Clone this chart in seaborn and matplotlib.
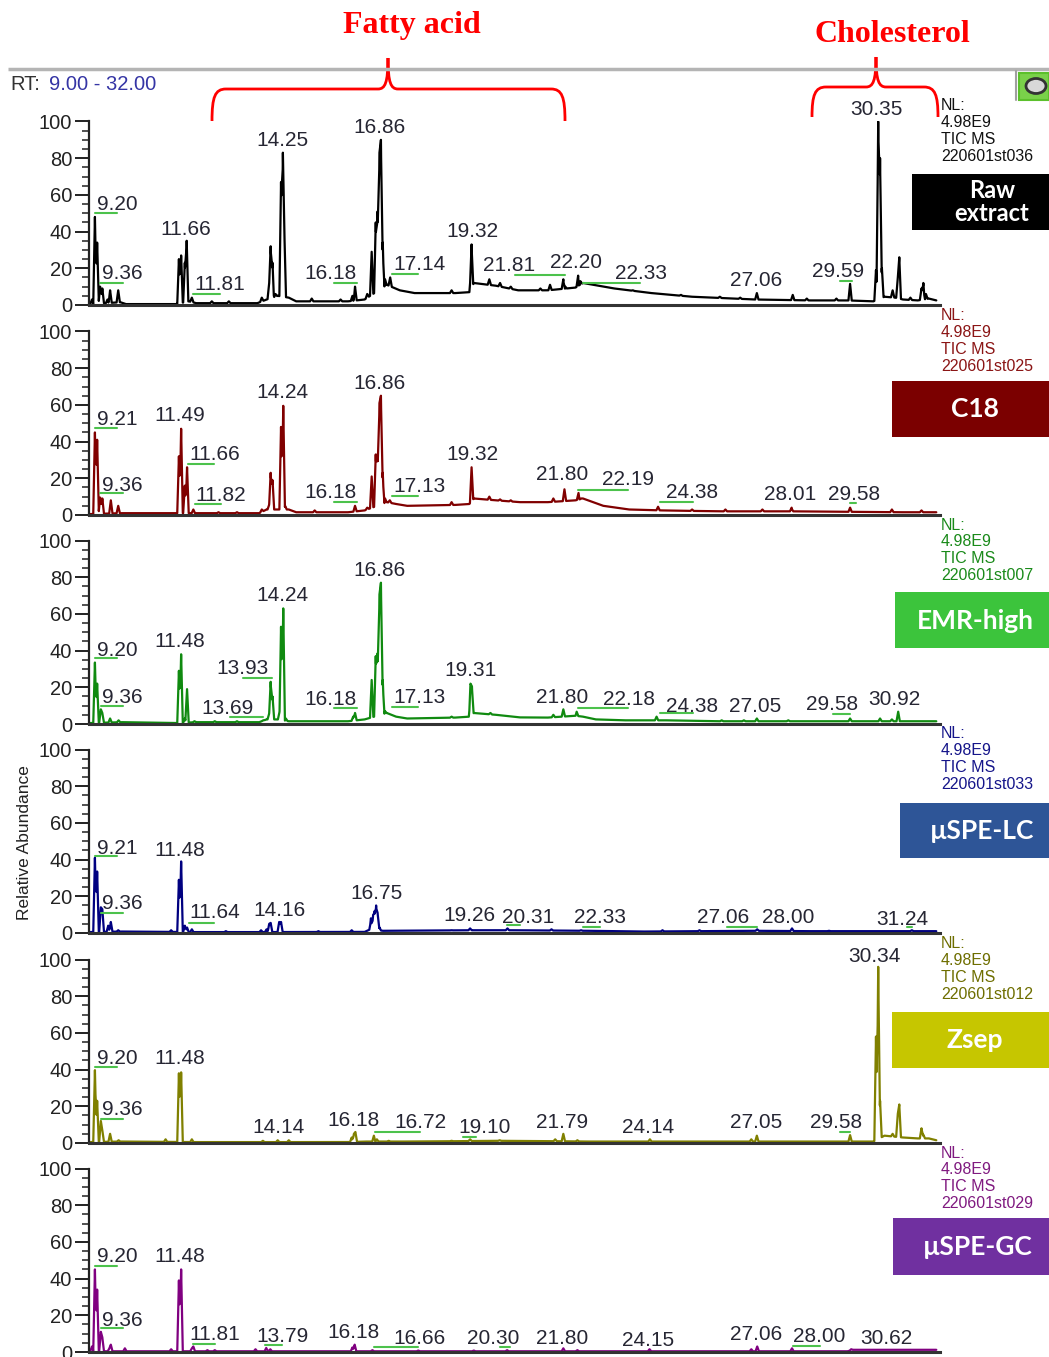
import matplotlib.pyplot as plt
import numpy as np
import pandas as pd
import seaborn as sns
from matplotlib.patches import PathPatch, Rectangle, Ellipse
from matplotlib.path import Path
from matplotlib.ticker import MultipleLocator

# ---------------- data ----------------
RT_MIN, RT_MAX = 9.0, 32.0
AB_TICKS = [0, 20, 40, 60, 80, 100]

sample_names = ["Raw\nextract", "C18", "EMR-high", "\u00b5SPE-LC", "Zsep", "\u00b5SPE-GC"]
file_ids = ["220601st036", "220601st025", "220601st007", "220601st033", "220601st012", "220601st029"]
nl_value = "4.98E9"

# peak apexes (rt, relative abundance) and baseline knots (rt, relative abundance)
raw_peaks = [(9.08, 3), (9.16, 48), (9.22, 34), (9.30, 10), (9.36, 9), (9.50, 3), (9.57, 8), (9.79, 8),
             (11.43, 25), (11.49, 27), (11.59, 23), (11.64, 35), (11.78, 4), (12.32, 2), (12.78, 2),
             (13.67, 4), (13.87, 12), (13.91, 32), (13.96, 23), (14.04, 6), (14.19, 67), (14.24, 83), (14.28, 40),
             (15.02, 3.5), (15.80, 3), (16.12, 5), (16.19, 10), (16.52, 6),
             (16.64, 29), (16.75, 45), (16.80, 51), (16.85, 83), (16.89, 90), (16.94, 34), (17.00, 14), (17.14, 15),
             (18.80, 8), (19.30, 12), (19.34, 33), (19.82, 14), (20.11, 12), (20.40, 10), (21.20, 9), (21.46, 11),
             (21.82, 14), (21.87, 10), (22.22, 16), (22.28, 13), (22.60, 11), (23.70, 8), (25.00, 5.5), (26.05, 4.5),
             (26.60, 4), (27.05, 6.5), (28.02, 5.5), (28.40, 3.5), (29.20, 3.5), (29.57, 11.5),
             (30.27, 19), (30.33, 100), (30.38, 80), (30.43, 20), (30.72, 8), (30.86, 15), (30.90, 26),
             (31.20, 4), (31.50, 9), (31.55, 12), (31.62, 6)]
raw_base = [(9.0, 0.5), (9.85, 1.5), (10.0, 0.5), (11.35, 0.5), (11.70, 2), (11.90, 1), (13.55, 1), (13.80, 3),
            (14.10, 5), (14.40, 4), (14.60, 2), (16.00, 2), (16.45, 3), (17.05, 11), (17.40, 8), (17.80, 6.5),
            (18.90, 6.5), (19.28, 7), (19.40, 12), (20.0, 10.5), (20.6, 8), (21.4, 8), (22.15, 9.5), (22.35, 12),
            (23.2, 9), (24.2, 6.5), (25.3, 4.5), (26.1, 3.8), (27.0, 3), (28.5, 2.5), (29.5, 2.5), (30.2, 2),
            (30.5, 4.5), (30.8, 4), (31.0, 3), (31.4, 2.5), (31.7, 3.5), (31.9, 2.5)]

c18_peaks = [(9.16, 45), (9.22, 41), (9.30, 9.5), (9.36, 9), (9.59, 8), (9.79, 5),
             (11.43, 32), (11.49, 47), (11.59, 16), (11.65, 26), (11.82, 3), (12.50, 1.5), (13.00, 1.5),
             (13.67, 3), (13.87, 6), (13.91, 23), (13.96, 19), (14.19, 48), (14.25, 59.5), (14.30, 5), (15.10, 2.5),
             (16.19, 5), (16.52, 4), (16.64, 21), (16.75, 33), (16.80, 33), (16.85, 61), (16.89, 65), (16.94, 23),
             (17.00, 9), (17.13, 8), (18.80, 7), (19.34, 26), (19.82, 10), (20.11, 8.5), (20.40, 8), (21.55, 9),
             (21.85, 14), (22.23, 12), (22.30, 9), (24.38, 4.5), (25.30, 3), (26.20, 3), (27.20, 3), (27.99, 4),
             (29.57, 4), (30.70, 3), (31.50, 2.5)]
c18_base = [(9.0, 0.5), (9.9, 1), (11.35, 1), (11.9, 1), (13.6, 1), (13.8, 3), (14.1, 3), (14.4, 3), (14.6, 1.5),
            (16.0, 1.5), (16.45, 2.5), (17.05, 7), (17.3, 6), (17.6, 5), (18.9, 5.5), (19.28, 6), (19.40, 9),
            (20.0, 8), (20.65, 7), (21.4, 7), (22.15, 8), (22.35, 9), (22.9, 5), (23.6, 3), (24.5, 2.5), (26.0, 2),
            (28.0, 2), (31.0, 1.5), (31.9, 1.5)]

emr_peaks = [(9.16, 33.5), (9.22, 22), (9.32, 8), (9.36, 6), (9.57, 3), (9.80, 2),
             (11.43, 29), (11.49, 38), (11.59, 3), (11.65, 19), (11.85, 1.5), (12.40, 1.5), (13.00, 1.5),
             (13.71, 2), (13.87, 6), (13.91, 23), (13.96, 15), (14.15, 7), (14.19, 53), (14.25, 63), (14.32, 3),
             (16.14, 4), (16.19, 6), (16.64, 24), (16.75, 37), (16.80, 38.5), (16.85, 70.6), (16.89, 77),
             (16.94, 24), (17.00, 7), (17.13, 5), (18.80, 4), (19.31, 22), (19.35, 20.5), (19.85, 6), (21.55, 5),
             (21.82, 8), (22.18, 6.7), (24.34, 4), (26.10, 2), (26.70, 2), (27.05, 3), (27.90, 2), (29.57, 3),
             (30.38, 3), (30.70, 2.5), (30.87, 6.7)]
emr_base = [(9.0, 0.5), (9.9, 1), (11.35, 0.5), (11.9, 1), (13.6, 1), (13.8, 2.5), (14.1, 2.5), (14.4, 1.5),
            (16.0, 1.5), (16.45, 2.5), (17.05, 6), (17.3, 4), (17.6, 3), (18.9, 3.5), (19.28, 4), (19.40, 6),
            (20.0, 5), (20.65, 3.6), (21.4, 3.5), (22.15, 4.5), (22.35, 4), (22.7, 2.5), (23.5, 2), (24.6, 2),
            (26.0, 1.5), (29.0, 1.5), (31.9, 1.5)]

lc_peaks = [(9.16, 41), (9.22, 33.5), (9.32, 14), (9.36, 13), (9.52, 4), (9.59, 6), (9.79, 1.5),
            (11.22, 1.5), (11.43, 29), (11.49, 39), (11.59, 4), (11.65, 3), (11.78, 2), (12.70, 1),
            (13.65, 1.5), (13.80, 2), (13.87, 5), (13.91, 5.5), (14.14, 6), (14.19, 6), (15.20, 1), (16.10, 1.5),
            (16.62, 8), (16.68, 10), (16.72, 12), (16.76, 15), (16.80, 11), (16.85, 3),
            (18.80, 1.5), (19.30, 2.5), (20.31, 2.5), (20.80, 1.5), (21.50, 2), (22.30, 1.5), (24.50, 1.5),
            (25.50, 1.5), (27.06, 2), (28.00, 2.5), (29.00, 1.2), (31.24, 1.5)]
lc_base = [(9.0, 0.5), (9.9, 0.8), (11.9, 0.5), (13.6, 0.5), (16.45, 0.6), (16.60, 2), (16.95, 1.2),
           (19.35, 1.5), (20.5, 1.5), (22.5, 1.2), (24.0, 0.8), (27.0, 1.2), (28.5, 1), (30.0, 1), (31.9, 1)]

zsep_peaks = [(9.16, 39.7), (9.22, 23), (9.32, 12), (9.36, 7), (9.57, 5), (9.80, 1.5),
              (11.07, 2), (11.43, 38), (11.49, 38.5), (11.78, 2), (13.70, 1.2), (14.10, 1.5), (14.40, 1.5),
              (16.10, 3), (16.16, 5), (16.20, 6), (16.70, 4), (16.78, 2), (17.10, 1.2), (18.80, 1.2), (19.30, 2),
              (20.10, 1.5), (21.60, 2), (21.82, 5), (22.20, 1.5), (24.16, 2), (26.90, 2), (27.05, 4), (29.57, 4.3),
              (30.27, 58), (30.33, 96), (30.38, 23), (30.72, 5), (30.86, 16), (30.90, 21), (31.50, 8), (31.55, 4.5)]
zsep_base = [(9.0, 0.5), (9.9, 0.8), (11.9, 0.5), (16.0, 0.5), (16.5, 0.8), (17.5, 0.8), (19.0, 1), (20.0, 1.2),
             (21.5, 1), (22.5, 0.8), (27.5, 0.8), (30.2, 0.8), (30.5, 4), (31.0, 3), (31.4, 2.5), (31.7, 2.5),
             (31.9, 1.5)]

gc_peaks = [(9.08, 3), (9.16, 45), (9.22, 34), (9.32, 11), (9.36, 8), (9.55, 2), (9.59, 4), (9.97, 2),
            (11.22, 1.5), (11.43, 39), (11.49, 45), (11.78, 2), (11.82, 3), (12.20, 1), (12.40, 1),
            (13.50, 1.5), (13.79, 2.2), (13.90, 1.5), (16.12, 2.5), (16.18, 4), (16.66, 1), (17.90, 0.8),
            (19.40, 0.8), (20.30, 1), (21.82, 2), (22.20, 1), (24.15, 1.5), (26.90, 1.5), (27.06, 3), (28.00, 2),
            (29.60, 1.5), (30.62, 1.2)]
gc_base = [(9.0, 0.4), (29.5, 0.4), (29.65, 1.2), (31.9, 1.2)]

# peak annotations (retention-time labels)
raw_labels = ["9.20", "9.36", "11.66", "11.81", "14.25", "16.18", "16.86", "17.14", "19.32", "21.81",
              "22.20", "22.33", "27.06", "29.59", "30.35"]
c18_labels = ["9.21", "9.36", "11.49", "11.66", "11.82", "14.24", "16.18", "16.86", "17.13", "19.32",
              "21.80", "22.19", "24.38", "28.01", "29.58"]
emr_labels = ["9.20", "9.36", "11.48", "13.69", "13.93", "14.24", "16.18", "16.86", "17.13", "19.31",
              "21.80", "22.18", "24.38", "27.05", "29.58", "30.92"]
lc_labels = ["9.21", "9.36", "11.48", "11.64", "14.16", "16.75", "19.26", "20.31", "22.33", "27.06",
             "28.00", "31.24"]
zsep_labels = ["9.20", "9.36", "11.48", "14.14", "16.18", "16.72", "19.10", "21.79", "24.14", "27.05",
               "29.58", "30.34"]
gc_labels = ["9.20", "9.36", "11.48", "11.81", "13.79", "16.18", "16.66", "20.30", "21.80", "24.15",
             "27.06", "28.00", "30.62"]

# ---------------- layout (where the labels and leader marks sit) ----------------
raw_label_xy = [(9.76, 55.0), (9.89, 16.9), (11.62, 41.4), (12.54, 10.9), (14.22, 89.4), (15.54, 16.9),
                (16.86, 96.5), (17.92, 22.3), (19.35, 40.3), (20.35, 21.3), (22.16, 22.9), (23.92, 17.4),
                (27.03, 13.6), (29.24, 18.5), (30.27, 106.8)]
c18_label_xy = [(9.76, 52.3), (9.89, 16.3), (11.46, 54.0), (12.41, 32.7), (12.57, 10.4), (14.22, 66.5),
                (15.54, 12.5), (16.86, 71.9), (17.92, 15.3), (19.35, 33.2), (21.78, 21.8), (23.57, 19.1),
                (25.30, 12.0), (27.95, 10.9), (29.68, 10.9)]
emr_label_xy = [(9.76, 40.3), (9.89, 14.7), (11.46, 44.7), (12.73, 8.7), (13.14, 30.5), (14.22, 69.8),
                (15.54, 13.1), (16.86, 83.9), (17.92, 14.7), (19.30, 28.9), (21.78, 14.7), (23.59, 13.1),
                (25.30, 9.3), (27.00, 9.3), (29.08, 10.4), (30.76, 13.1)]
lc_label_xy = [(9.76, 46.3), (9.89, 16.3), (11.46, 45.2), (12.41, 10.9), (14.16, 12.5), (16.76, 21.3),
               (19.27, 9.8), (20.86, 8.2), (22.81, 8.2), (26.14, 8.2), (27.89, 8.2), (30.97, 7.1)]
zsep_label_xy = [(9.76, 46.3), (9.89, 18.0), (11.46, 45.8), (14.11, 8.2), (16.16, 12.5), (17.95, 10.9),
                 (19.70, 8.7), (21.78, 11.4), (24.11, 8.7), (27.03, 10.9), (29.19, 11.4), (30.24, 101.9)]
gc_label_xy = [(9.76, 51.8), (9.89, 17.4), (11.46, 51.8), (12.41, 9.3), (14.22, 8.2), (16.16, 10.4),
               (17.92, 7.6), (19.92, 7.6), (21.78, 7.6), (24.11, 6.5), (27.03, 9.3), (28.73, 8.2), (30.54, 7.1)]

raw_marks = [(9.16, 9.76, 50.1), (9.30, 9.92, 12.0), (11.81, 12.54, 6.0), (15.62, 16.24, 12.0),
             (17.19, 17.89, 16.9), (20.51, 21.86, 16.3), (22.35, 23.89, 12.0), (29.30, 29.62, 13.1)]
c18_marks = [(9.16, 9.76, 47.4), (9.30, 9.92, 12.0), (11.68, 12.38, 27.8), (11.86, 12.57, 6.0),
             (15.62, 16.24, 7.1), (17.19, 17.89, 10.4), (22.22, 23.57, 13.6), (24.43, 25.32, 7.1),
             (29.57, 29.73, 6.5)]
emr_marks = [(9.16, 9.76, 35.8), (9.32, 9.92, 9.8), (12.81, 13.70, 4.0), (13.16, 13.95, 24.9),
             (15.62, 16.24, 8.5), (17.19, 17.89, 9.4), (22.22, 23.57, 8.9), (24.43, 25.32, 5.8),
             (29.11, 29.57, 5.4)]
lc_marks = [(9.16, 9.76, 42.0), (9.32, 9.92, 11.1), (11.70, 12.38, 5.6), (20.30, 20.65, 4.4),
            (22.35, 22.81, 3.4), (26.24, 27.05, 3.4), (31.11, 31.24, 3.3)]
zsep_marks = [(9.16, 9.76, 41.6), (9.32, 9.92, 12.9), (16.73, 17.95, 6.2), (19.11, 19.46, 3.4),
              (29.30, 29.57, 6.2)]
gc_marks = [(9.16, 9.76, 46.9), (9.32, 9.92, 12.9), (11.81, 12.41, 4.4), (13.76, 14.22, 3.8),
            (16.70, 17.89, 2.9), (20.11, 20.38, 2.9), (28.03, 28.76, 3.3)]

peak_sets = [raw_peaks, c18_peaks, emr_peaks, lc_peaks, zsep_peaks, gc_peaks]
base_sets = [raw_base, c18_base, emr_base, lc_base, zsep_base, gc_base]
label_sets = [raw_labels, c18_labels, emr_labels, lc_labels, zsep_labels, gc_labels]
label_xy_sets = [raw_label_xy, c18_label_xy, emr_label_xy, lc_label_xy, zsep_label_xy, gc_label_xy]
mark_sets = [raw_marks, c18_marks, emr_marks, lc_marks, zsep_marks, gc_marks]

trace_colors = ["#000000", "#800000", "#108a10", "#000080", "#808000", "#800080"]
nl_colors = ["#111111", "#8b1515", "#1a8a1a", "#15158a", "#6e6e00", "#801a80"]
box_colors = ["#000000", "#7b0000", "#3cc43c", "#2e5597", "#c6c600", "#7030a0"]

W, H = 1049, 1357
X0, X1 = 89, 940
PANEL_Y0 = [305, 515, 724, 933, 1143, 1352]
SPAN = 183.5
BOXES = [(912, 174, 137, 56, 992, 202), (892, 381, 157, 56, 975, 409), (895, 592, 154, 56, 975, 621),
         (900, 803, 149, 55, 982, 831), (892, 1012, 157, 56, 975, 1040), (893, 1218, 156, 57, 978, 1247)]


def build_trace(peaks, base, half_width=0.045):
    p_rt = np.array([p[0] for p in peaks])
    p_ab = np.array([p[1] for p in peaks])
    b_rt = np.array([b[0] for b in base])
    b_ab = np.array([b[1] for b in base])
    xs = np.unique(np.concatenate([b_rt, p_rt - half_width, p_rt, p_rt + half_width]))
    xs = xs[(xs >= RT_MIN) & (xs <= b_rt.max())]
    ys = np.interp(xs, b_rt, b_ab)
    for r, h in zip(p_rt, p_ab):
        ys = np.maximum(ys, h * np.clip(1 - np.abs(xs - r) / half_width, 0, None))
    return pd.DataFrame({"rt": xs, "abundance": ys})


def brace(ax, xl, xt, xr, yb, yt, yf):
    verts = [(xl, yf), (xl, yb + 8), (xl + 3, yb), (xl + 14, yb),
             (xt - 10, yb),
             (xt - 3, yb), (xt, yb - 6), (xt, yt),
             (xt, yb - 6), (xt + 3, yb), (xt + 10, yb),
             (xr - 14, yb),
             (xr - 3, yb), (xr, yb + 8), (xr, yf)]
    codes = [Path.MOVETO, Path.CURVE4, Path.CURVE4, Path.CURVE4, Path.LINETO,
             Path.CURVE4, Path.CURVE4, Path.CURVE4, Path.CURVE4, Path.CURVE4, Path.CURVE4,
             Path.LINETO, Path.CURVE4, Path.CURVE4, Path.CURVE4]
    ax.add_patch(PathPatch(Path(verts, codes), facecolor="none", edgecolor="#ff0000", lw=2))


sns.set_theme(style="white")
plt.rcParams["font.family"] = ["Liberation Sans", "DejaVu Sans"]

fig = plt.figure(figsize=(W / 100, H / 100), dpi=100)
ov = fig.add_axes([0, 0, 1, 1])
ov.set_xlim(0, W)
ov.set_ylim(H, 0)
ov.axis("off")

# header strip
ov.plot([8, W], [69, 69], color="#b4b4b4", lw=2.5, solid_capstyle="butt")
ov.text(10, 85, "RT:", fontsize=14.5, color="#333333", va="center", ha="left")
ov.text(49, 85, "9.00 - 32.00", fontsize=14.5, color="#3535a5", va="center", ha="left")
ov.plot([1016, 1016], [71, 100], color="#a0a0a0", lw=1.5)
ov.add_patch(Rectangle((1019, 73), 30, 27, facecolor="#7ad14a", edgecolor="#5cc02c", lw=1.5))
ov.add_patch(Ellipse((1036, 86), 20, 15, facecolor="#d8d8d8", edgecolor="#333333", lw=2))

brace(ov, 212, 388, 565, 89, 58, 121)
brace(ov, 812, 876, 938, 87, 57, 117)
ov.text(412, 33, "Fatty acid", fontsize=23, color="#ff0000", fontweight="bold",
        family=["Liberation Serif", "DejaVu Serif"], ha="center", va="baseline")
ov.text(892, 42, "Cholesterol", fontsize=23, color="#ff0000", fontweight="bold",
        family=["Liberation Serif", "DejaVu Serif"], ha="center", va="baseline")

ov.text(25, 843, "Relative Abundance", rotation=90, fontsize=12.5, color="#222222", ha="center", va="center")

for i, y0 in enumerate(PANEL_Y0):
    y100 = y0 - SPAN
    # right-hand info text and sample tag
    ov.text(941, y100 - 23, "NL:\n" + nl_value + "\nTIC MS\n" + file_ids[i], fontsize=11.5,
            color=nl_colors[i], ha="left", va="top", linespacing=1.15)
    bx, by, bw, bh, tx, ty = BOXES[i]
    ov.add_patch(Rectangle((bx, by), bw, bh, facecolor=box_colors[i], edgecolor="none"))
    ov.text(tx, ty, sample_names[i], fontsize=17 if i == 0 else 19, color="white", fontweight="bold",
            family=["Lato", "DejaVu Sans"], ha="center", va="center", linespacing=1.05)

    df = build_trace(peak_sets[i], base_sets[i])
    ax = fig.add_axes([X0 / W, 1 - y0 / H, (X1 - X0) / W, SPAN / H])
    ax.set_facecolor("none")
    sns.lineplot(data=df, x="rt", y="abundance", ax=ax, color=trace_colors[i], linewidth=1.6,
                 estimator=None, sort=False)
    ax.set_xlim(RT_MIN, RT_MAX)
    ax.set_ylim(0, 100)
    ax.set_xlabel("")
    ax.set_ylabel("")
    ax.set_xticks([])
    ax.set_yticks(AB_TICKS)
    ax.yaxis.set_minor_locator(MultipleLocator(5))
    ax.tick_params(axis="y", which="major", left=True, length=10, width=1.4, color="#222222",
                   labelsize=14.5, labelcolor="#222222", pad=2)
    ax.tick_params(axis="y", which="minor", left=True, length=5, width=1.1, color="#222222")
    ax.spines["top"].set_visible(False)
    ax.spines["right"].set_visible(False)
    ax.spines["left"].set_color("#222222")
    ax.spines["left"].set_linewidth(1.6)
    ax.spines["bottom"].set_color("#333333")
    ax.spines["bottom"].set_linewidth(2.2)

    for txt, (lx, ly) in zip(label_sets[i], label_xy_sets[i]):
        ax.text(lx, ly, txt, ha="center", va="center", fontsize=15, color="#262633", clip_on=False)
    for x1, x2, yy in mark_sets[i]:
        ax.plot([x1, x2], [yy, yy], color="#4cc24c", lw=1.5, clip_on=False)

fig.savefig("out.png", dpi=100)
